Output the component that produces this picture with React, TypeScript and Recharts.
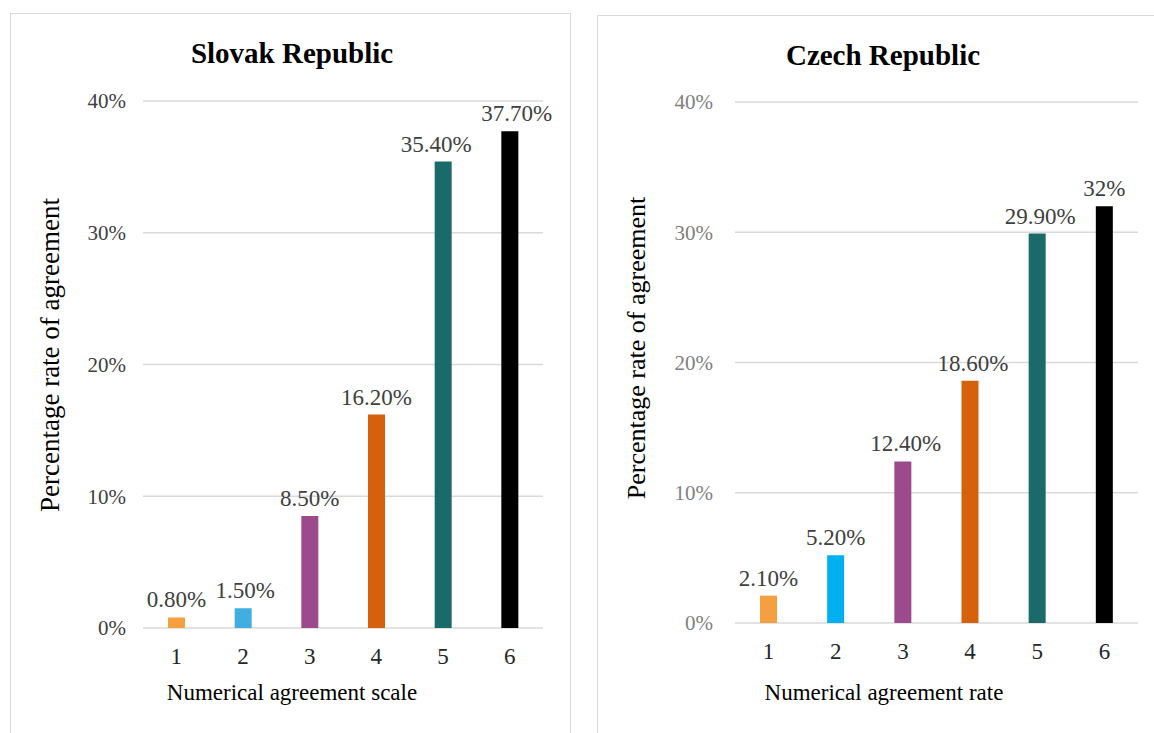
import { BarChart, Bar, XAxis, YAxis, CartesianGrid, Cell, LabelList } from "recharts";

const scale = ["1", "2", "3", "4", "5", "6"];
const slovakValues = [0.8, 1.5, 8.5, 16.2, 35.4, 37.7];
const slovakLabels = ["0.80%", "1.50%", "8.50%", "16.20%", "35.40%", "37.70%"];
const czechValues = [2.1, 5.2, 12.4, 18.6, 29.9, 32];
const czechLabels = ["2.10%", "5.20%", "12.40%", "18.60%", "29.90%", "32%"];
const yTicks = [0, 10, 20, 30, 40];

const slovakColors = ["#F5A040", "#41AEE0", "#9B4A8C", "#D6610D", "#1A6A6A", "#000000"];
const czechColors = ["#F5A040", "#00B0F0", "#9B4A8C", "#D6610D", "#1A6A6A", "#000000"];

const FONT = '"Liberation Serif", "Times New Roman", Times, "DejaVu Serif", serif';

type PanelProps = {
  left: number;
  width: number;
  title: string;
  xTitle: string;
  values: number[];
  labels: string[];
  colors: string[];
  labelShift: number[];
  yAxisWidth: number;
  tickGap: number;
  marginRight: number;
  marginTop: number;
  marginBottom: number;
  tickColor: string;
  titleX: number;
  titleY: number;
  yTitleX: number;
  yTitleY: number;
  yTitleSize: number;
  xTitleX: number;
  xTitleY: number;
};

function Panel(p: PanelProps) {
  const data = scale.map((s, i) => ({ name: s, value: p.values[i], label: p.labels[i] }));

  const renderLabel = (props: any) => {
    const { x, y, width, index } = props;
    return (
      <text
        x={Number(x) + Number(width) / 2 + (p.labelShift[index] || 0)}
        y={Number(y) - 10}
        textAnchor="middle"
        fill="#404040"
        fontSize={23}
        style={{ fontFamily: FONT }}
      >
        {p.labels[index]}
      </text>
    );
  };

  return (
    <div style={{ position: "absolute", left: p.left, top: 0, width: p.width, height: 733, fontFamily: FONT }}>
      <BarChart
        width={p.width}
        height={733}
        data={data}
        margin={{ top: p.marginTop, right: p.marginRight, left: 0, bottom: p.marginBottom }}
        barSize={17}
        style={{ fontFamily: FONT }}
      >
        <CartesianGrid vertical={false} stroke="#d9d9d9" strokeWidth={1.5} />
        <XAxis
          dataKey="name"
          axisLine={false}
          tickLine={false}
          tickSize={0}
          tickMargin={20}
          height={30}
          tick={{ fill: "#262626", fontSize: 23, fontFamily: FONT }}
        />
        <YAxis
          domain={[0, 40]}
          ticks={yTicks}
          width={p.yAxisWidth}
          axisLine={false}
          tickLine={false}
          tickSize={0}
          tickMargin={p.tickGap}
          tickFormatter={(v: number) => `${v}%`}
          tick={{ fill: p.tickColor, fontSize: 21, fontFamily: FONT }}
        />
        <Bar dataKey="value" isAnimationActive={false}>
          {data.map((d, i) => (
            <Cell key={d.name} fill={p.colors[i]} />
          ))}
          <LabelList dataKey="label" content={renderLabel} />
        </Bar>
      </BarChart>
      <div
        style={{
          position: "absolute",
          left: p.titleX,
          top: p.titleY,
          transform: "translate(-50%, -50%)",
          fontFamily: FONT,
          fontWeight: "bold",
          fontSize: 29,
          color: "#000",
          whiteSpace: "nowrap",
        }}
      >
        {p.title}
      </div>
      <div
        style={{
          position: "absolute",
          left: p.yTitleX,
          top: p.yTitleY,
          transform: "translate(-50%, -50%) rotate(-90deg)",
          fontFamily: FONT,
          fontSize: p.yTitleSize,
          color: "#000",
          whiteSpace: "nowrap",
        }}
      >
        Percentage rate of agreement
      </div>
      <div
        style={{
          position: "absolute",
          left: p.xTitleX,
          top: p.xTitleY,
          transform: "translate(-50%, -50%)",
          fontFamily: FONT,
          fontSize: 23,
          color: "#000",
          whiteSpace: "nowrap",
        }}
      >
        {p.xTitle}
      </div>
    </div>
  );
}

export default function App() {
  return (
    <div
      style={{
        position: "absolute",
        left: 0,
        top: 0,
        width: 1154,
        height: 733,
        background: "#fff",
        overflow: "hidden",
      }}
    >
      <div
        style={{
          position: "absolute",
          left: 10,
          top: 13,
          width: 561,
          height: 740,
          border: "1.5px solid #d9d9d9",
          boxSizing: "border-box",
        }}
      />
      <div
        style={{
          position: "absolute",
          left: 597,
          top: 15,
          width: 580,
          height: 740,
          border: "1.5px solid #d9d9d9",
          boxSizing: "border-box",
        }}
      />
      <Panel
        left={0}
        width={580}
        title="Slovak Republic"
        xTitle="Numerical agreement scale"
        values={slovakValues}
        labels={slovakLabels}
        colors={slovakColors}
        labelShift={[0, 2, 0, 0, -7, 7]}
        yAxisWidth={143}
        tickGap={17}
        marginRight={37}
        marginTop={101}
        marginBottom={75}
        tickColor="#404040"
        titleX={292}
        titleY={53}
        yTitleX={50}
        yTitleY={355}
        yTitleSize={27}
        xTitleX={292}
        xTitleY={693}
      />
      <Panel
        left={580}
        width={574}
        title="Czech Republic"
        xTitle="Numerical agreement rate"
        values={czechValues}
        labels={czechLabels}
        colors={czechColors}
        labelShift={[0, 0, 3, 3, 3, 0]}
        yAxisWidth={155}
        tickGap={22}
        marginRight={16}
        marginTop={102}
        marginBottom={80}
        tickColor="#808080"
        titleX={303}
        titleY={55}
        yTitleX={57}
        yTitleY={348}
        yTitleSize={26}
        xTitleX={304}
        xTitleY={693}
      />
    </div>
  );
}
